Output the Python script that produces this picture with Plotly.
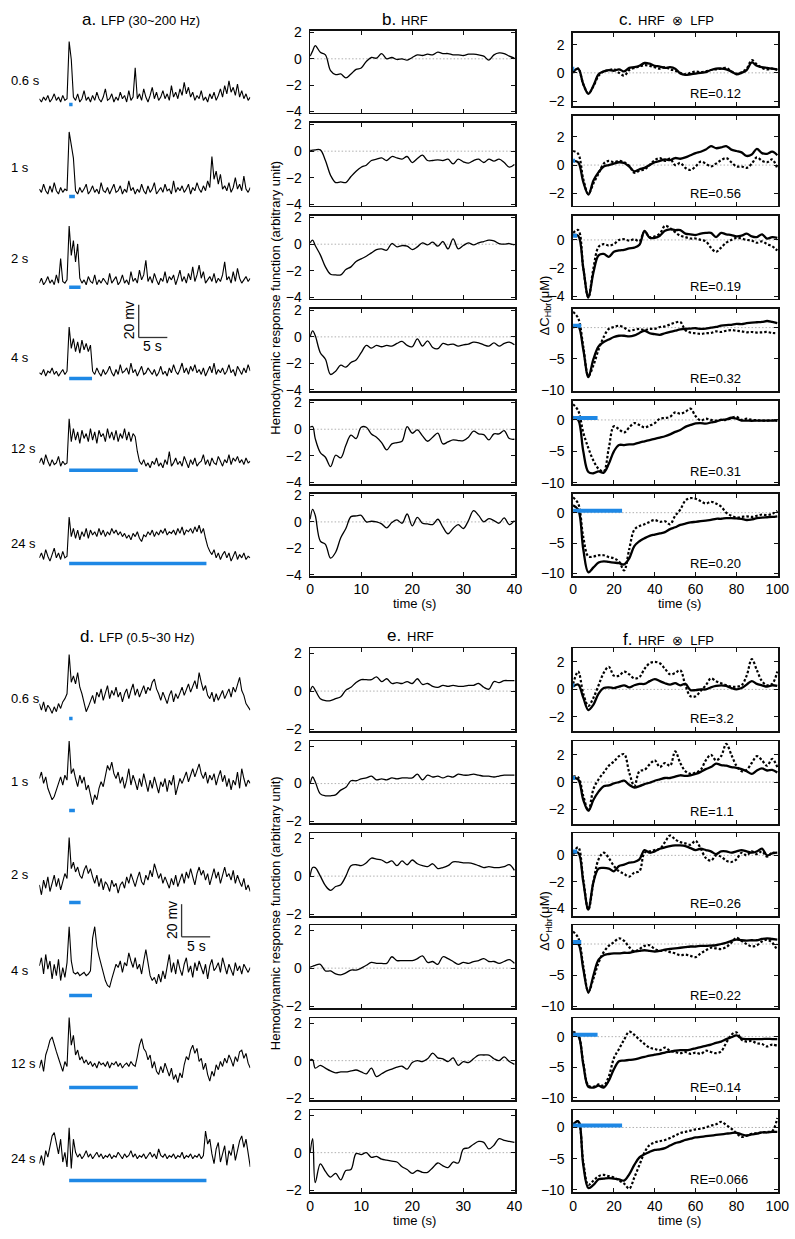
import numpy as np
import plotly.graph_objects as go

W, H = 795, 1239
FONT = "Liberation Sans, Arial, Helvetica, sans-serif"
BLUE = "#1E88E5"

# ---------------------------------------------------------------- data
durations = [0.6, 1, 2, 4, 12, 24]
dur_labels = ["0.6 s", "1 s", "2 s", "4 s", "12 s", "24 s"]
re_gamma = ["RE=0.12", "RE=0.56", "RE=0.19", "RE=0.32", "RE=0.31", "RE=0.20"]
re_low = ["RE=3.2", "RE=1.1", "RE=0.26", "RE=0.22", "RE=0.14", "RE=0.066"]

LFP_DT = 0.3725      # s between LFP samples
LFP_ONSET = 14       # samples before stimulus onset

# LFP 30~200 Hz (mV, relative to baseline)
hi_06 = [2,0,3,1,4,0,2,5,1,3,0,4,1,2,
         37,26,
         3,1,5,0,2,7,1,3,0,4, 1,6,2,0,3,8,1,2,5,0, 3,1,6,2,4,0,7,1,3,21,
         2,5,1,8,3,0,4,9,2,6, 1,3,7,2,5,1,10,3,6,2, 8,4,12,5,9,3,6,1,4,2,
         7,1,3,0,5,2,6,1,4,8, 3,10,5,13,6,9,4,11,3,7, 2,5,1,3]
hi_1 = [3,1,6,2,0,5,1,7,2,0,4,1,3,2,
        38,30,22,
        2,0,4,1,3,6,0,2,5,1, 3,0,7,2,1,4,0,3,6,1, 2,5,0,3,1,8,2,4,0,3,
        1,6,2,0,5,1,3,7,0,2, 4,1,6,2,3,0,8,1,4,2, 5,1,3,6,0,4,2,7,3,1,
        5,2,8,4,23,9,14,6,12,3, 5,2,7,1,4,10,3,6,2,11, 3,1,4]
hi_2 = [1,4,0,2,5,1,3,0,6,1,16,2,1,3,
        36,18,27,14,25,
        4,1,3,0,5,2,1,6,0,3, 1,4,2,0,7,1,3,5,0,2, 6,1,3,0,8,2,4,1,9,3,
        6,15,2,5,1,7,3,0,4,2, 8,1,5,3,6,0,4,9,2,5, 1,7,3,11,2,6,12,4,8,1,
        3,5,2,7,1,4,2,6,14,3, 5,1,8,2,10,4,1,3,5,2, 4]
hi_4 = [2,1,4,0,3,2,5,1,3,0,2,4,1,3,
        30,17,23,15,21,14,22,16,20,15,19,
        3,1,5,2,0,4,1,3,6,2, 0,4,1,7,2,3,5,1,8,2, 4,0,3,6,1,2,5,3,1,4,
        0,2,6,1,3,0,5,2,7,3, 1,4,8,2,5,1,6,3,7,2, 4,1,5,0,3,6,2,8,1,4,
        2,5,1,3,7,2,4,0,6,3, 1,5,2,7,3]
hi_12 = [3,6,2,8,4,1,5,2,3,7,1,4,2,3,
         30,16,24,17,22,15,23,18,21,16, 24,17,22,15,23,19,21,16,24,18,
         22,17,23,16,21,18,24,17,22,16, 21,19,
         10,4,2,5,1,3,0,4,2,6, 1,3,0,5,2,10,1,3,6,2, 4,1,7,3,0,5,2,6,1,3,
         4,8,2,5,1,6,3,2,7,4, 1,5,3,8,2,6,4,7,3,5, 2,6,3,4]
hi_24 = [2,5,1,7,3,0,4,8,2,5,1,6,2,3,
         27,15,20,14,19,13,18,15,20,14, 19,16,18,15,20,16,19,15,18,16,
         20,17,19,16,18,15,17,14,16,13, 17,15,18,14,12,16,15,18,16,19,
         15,18,16,19,17,20,16,18,17,19, 16,20,17,21,16,19,18,20,17,21,
         18,22,17,20,
         14,9,6,4,7,2,5,1,4,6, 2,5,0,3,6,1,4,2,5,1, 3,2]

# LFP 0.5~30 Hz (mV)
lo_06 = [-3,-7,-2,-8,-4,-6,-9,-5,-8,-3,-6,-2,0,3,
         27,10,
         14,9,16,7,3,-2,-8,-5,-1,2, -3,4,1,6,-1,3,8,0,5,2, 7,1,4,-2,3,6,0,5,9,2,
         6,1,4,8,3,7,5,10,12,6, 3,-1,4,1,-3,2,5,-2,3,0, 4,7,2,6,9,4,8,11,6,16,
         10,5,8,2,0,4,-2,3,-1,2, 5,0,3,6,1,7,4,9,13,5, 2,-3,-5,-7]
lo_1 = [2,6,-1,3,-4,-8,-11,-9,-5,0,3,-2,4,1,
        25,5,8,
        2,-3,4,-1,3,-5,-2,-9,-14,-8, -11,-4,0,-3,4,10,7,12,5,2, 6,-1,3,-4,1,8,-2,4,0,-5,
        2,-3,5,-1,-6,1,-4,3,-2,-7, 0,-3,2,-6,1,-2,4,-8,-3,2, -1,3,6,0,4,8,3,7,11,5,
        2,6,-1,4,1,5,-2,3,7,0, 4,-3,2,-5,1,-2,6,-4,8,2, -3,1,-1]
lo_2 = [-2,-8,1,-4,3,-6,-1,4,-3,2,-5,0,5,2,
        27,8,12,6,9,
        4,2,7,10,5,8,3,-1,4,-3, 2,-5,0,-2,-6,1,-3,-1,-7,-2, 0,-4,3,-1,5,1,-3,2,6,0,
        -2,4,1,7,3,11,6,2,5,-1, 3,0,-4,2,-2,4,-3,1,5,-1, 6,2,8,3,-2,5,9,4,7,1,
        5,-2,3,8,2,6,-1,4,9,3, 5,1,7,-1,4,0,-3,2,-5,-2, -6]
lo_4 = [3,8,-2,10,1,6,-5,4,-3,7,-6,2,-4,5,
        27,6,-1,-2,-1,-3,-2,-1,-3,-2,0,
        20,27,15,9,4,-2,-6,-9,-10,-5, 0,4,2,6,-1,5,3,11,6,2, 8,1,4,-2,6,13,5,-3,-6,-4,
        -8,-2,-7,0,-5,3,10,-1,5,-2, 7,1,-3,4,8,-1,3,-4,5,0, 6,2,-2,4,-5,3,7,0,2,5,
        -1,8,3,-2,4,1,-3,5,0,3, -2,4,1,-1,2]
lo_12 = [-2,3,-4,6,10,15,17,12,8,4,0,-4,2,-1,
         29,12,18,6,9,3,5,1,3,0, 2,-1,1,-2,2,0,1,-1,2,-2, 1,0,2,-1,1,-2,0,1,-1,2, 0,-1,
         5,12,16,10,8,3,6,-2,2,-4, -6,-1,-5,1,-3,-7,-2,-9,-6,-11, -5,-8,0,5,3,9,12,7,10,2,
         4,-3,1,-6,-10,-4,-7,0,-3,2, -1,4,1,6,3,-1,5,2,8,9, 4,7,1,-2]
lo_24 = [-3,2,-4,5,1,8,14,16,10,3,12,-2,4,-5,
         19,-6,12,4,1,3,0,2,5,1, 3,0,2,4,1,3,0,2,1,3, 0,2,1,4,2,0,3,1,2,5,
         1,3,0,2,1,3,0,2,4,1, 3,0,6,2,1,3,0,2,1,3, 0,2,1,4,0,2,1,3,0,2, 1,3,0,2,
         17,9,12,3,-3,6,10,-2,4,8, -4,5,2,9,-1,6,11,14,7,12, 3,-5]

# HRFs (arbitrary unit), sampled at hrf_t seconds
hrf_t = [0, 0.5] + list(range(1, 41))
hrf_hi_06 = [0.2,0.6, 1.0,0.5,0.3,-0.9,-1.2,-1.15,-1.45,-1.15,-0.8,-0.7,
             -0.2,0.1,0.05,0.4,0.0,0.1,-0.05,0.0,-0.1,0.1, 0.3,0.25,0.35,0.3,0.5,0.4,0.4,0.3,0.3,0.25,
             0.35,0.35,0.3,0.2,-0.1,0.3,0.45,0.4,0.2,0.05]
hrf_hi_1 = [0.05,0.08, 0.1,0.1,-0.7,-1.8,-2.35,-2.3,-2.35,-1.9,-1.5,-1.2,
            -1.05,-0.7,-0.6,-0.5,-0.7,-0.4,-0.5,-0.6,-0.4,-0.85, -0.55,-0.3,-0.7,-0.7,-0.65,-0.7,-0.6,-0.95,-0.6,-0.8,
            -0.9,-0.7,-0.6,-0.85,-0.6,-0.75,-0.6,-0.85,-1.2,-1.0]
hrf_hi_2 = [0.1,0.3, -0.1,-0.8,-1.7,-2.25,-2.3,-2.3,-1.9,-1.7,-1.3,-1.1,
            -0.9,-0.65,-0.4,-0.35,-0.45,0.05,-0.2,-0.1,-0.15,-0.4, -0.2,0.1,-0.05,0.15,-0.15,0.2,-0.35,0.4,-0.35,-0.1,
            0.1,-0.05,0.1,0.2,0.3,0.25,0.05,0.0,0.05,-0.05]
hrf_hi_4 = [0.0,0.45, 0.1,-1.2,-1.7,-2.85,-2.6,-2.15,-2.3,-1.95,-1.75,-1.2,
            -0.65,-0.85,-0.65,-0.75,-0.65,-0.7,-0.5,-0.35,-0.65,-0.75, -0.15,-0.7,-0.3,-0.8,-0.9,-0.5,-0.6,-0.55,-0.7,-0.6,
            -0.55,-0.4,-0.45,-0.6,-0.7,-0.45,-0.7,-0.5,-0.4,-0.6]
hrf_hi_12 = [0.15,0.2, -0.7,-1.75,-2.1,-2.8,-1.95,-2.15,-1.2,-0.45,-0.7,0.15,
             0.15,-0.35,-0.6,-1.0,-1.55,-1.1,-1.0,-0.9,0.2,-0.3, -0.05,-0.5,-0.9,-0.6,-0.3,-1.1,-0.95,-0.8,-0.85,-0.85,
             -0.6,-0.15,-0.35,-0.4,-0.8,-0.35,-0.35,-0.1,-0.7,-0.75]
hrf_hi_24 = [0.2,0.95, 0.5,-1.45,-1.7,-2.75,-2.3,-1.2,-0.5,0.4,0.45,0.5,
             0.0,0.05,0.0,-0.15,-0.45,-0.05,0.15,-0.1,0.6,-0.3, 0.35,-0.1,-0.15,-0.2,0.2,-0.4,-0.9,-0.5,-0.2,-0.5,
             0.1,0.85,0.5,0.0,0.25,0.1,-0.1,0.3,-0.2,0.1]
hrf_lo_06 = [0.0,0.25, 0.05,-0.4,-0.5,-0.5,-0.4,-0.3,0.05,0.2,0.45,0.6,
             0.6,0.6,0.75,0.5,0.65,0.4,0.45,0.4,0.5,0.4, 0.65,0.35,0.4,0.25,0.2,0.3,0.25,0.3,0.25,0.25,
             0.3,0.3,0.4,0.2,0.1,0.5,0.45,0.55,0.55,0.55]
hrf_lo_1 = [0.0,0.35, 0.1,-0.55,-0.65,-0.65,-0.6,-0.35,-0.2,0.15,0.15,0.25,
            0.3,0.4,0.2,0.25,0.2,0.3,0.25,0.3,0.3,0.3, 0.5,0.2,0.45,0.35,0.4,0.3,0.4,0.35,0.5,0.45,
            0.45,0.5,0.45,0.4,0.4,0.35,0.4,0.45,0.45,0.45]
hrf_lo_2 = [0.0,0.45, 0.45,0.0,-0.5,-0.75,-0.55,-0.45,0.0,0.55,0.6,0.55,
            0.7,0.95,0.9,0.85,0.7,0.8,0.55,0.8,0.6,0.85, 0.65,0.55,0.5,0.65,0.4,0.45,0.55,0.75,0.75,0.7,
            0.7,0.65,0.55,0.45,0.5,0.45,0.45,0.5,0.6,0.3]
hrf_lo_4 = [0.05,0.1, 0.15,0.2,-0.15,-0.15,-0.3,-0.35,-0.25,-0.1,-0.1,0.0,
            0.15,0.3,0.25,0.25,0.25,0.6,0.4,0.4,0.4,0.4, 0.5,0.65,0.3,0.35,0.2,0.6,0.5,0.35,0.2,0.3,
            0.25,0.35,0.4,0.5,0.35,0.35,0.25,0.35,0.45,0.25]
hrf_lo_12 = [0.05,0.05, -0.4,-0.25,-0.4,-0.55,-0.65,-0.6,-0.6,-0.55,-0.5,-0.6,
             -0.7,-0.4,-0.85,-0.7,-0.55,-0.45,-0.35,-0.3,-0.45,-0.1, 0.0,-0.05,0.1,0.4,0.15,0.1,-0.05,0.15,-0.25,-0.05,
             -0.1,0.1,0.3,0.3,0.3,0.1,0.0,0.2,-0.05,-0.2]
hrf_lo_24 = [0.0,0.75, -1.6,-0.6,-1.0,-1.3,-1.1,-1.45,-0.95,-0.9,-0.05,-0.1,
             0.0,-0.25,-0.2,-0.35,-0.4,-0.45,-0.5,-0.75,-0.9,-1.1, -0.95,-1.05,-1.05,-0.8,-0.55,-0.7,-0.8,-0.5,-0.55,0.2,
             0.25,0.45,0.6,0.55,0.2,0.4,0.75,0.65,0.6,0.55]

# HRF (x) LFP prediction (solid) and measured dC_Hbr (dotted), uM, at conv_t seconds
conv_t = list(np.arange(0, 100.01, 2.5))
pred_hi_06 = [0.1,0.3,-0.8,-1.5,-0.9,-0.1,0.1,0.2,0.15,0.25, 0.1,0.35,0.4,0.5,0.7,0.65,0.5,0.45,0.35,0.4,
              0.3,-0.05,-0.15,-0.1,-0.05,0.0,0.05,0.2,0.3,0.3, 0.25,0.1,-0.1,0.0,0.2,0.75,0.5,0.4,0.35,0.3, 0.25]
meas_hi_06 = [0.0,0.3,-0.8,-1.45,-0.95,-0.2,0.1,0.2,0.25,0.0, -0.2,0.2,0.35,0.45,0.55,0.5,0.4,0.3,0.4,0.25,
              0.15,0.0,-0.1,0.0,0.1,0.05,0.1,0.2,0.25,0.3, 0.35,0.1,-0.05,0.05,0.3,0.9,0.6,0.35,0.25,0.3, 0.2]
pred_hi_1 = [0.3,0.2,-1.2,-2.1,-1.1,-0.5,-0.1,0.0,0.1,0.2, 0.15,-0.1,-0.45,-0.3,-0.2,0.0,0.2,0.3,0.4,0.35,
             0.5,0.45,0.55,0.7,0.85,0.95,1.1,1.35,1.2,1.25, 1.35,1.1,1.0,0.9,0.65,0.75,1.15,0.85,0.8,0.95, 0.7]
meas_hi_1 = [1.0,0.8,-1.0,-2.05,-1.3,-0.6,0.1,0.3,0.2,0.3, 0.2,-0.05,-0.55,-0.4,-0.3,0.0,0.35,0.5,0.3,0.45,
             0.0,0.15,-0.2,-0.35,-0.1,0.25,0.1,-0.1,0.1,0.35, 0.5,0.2,-0.1,-0.1,-0.2,0.1,0.55,0.3,0.2,0.4, -0.25]
pred_hi_2 = [0.35,0.3,-2.0,-4.1,-2.3,-1.1,-1.0,-1.2,-0.85,-0.75, -0.7,-0.6,-0.55,-0.35,0.65,0.15,0.15,0.3,0.65,0.75,
             0.7,0.7,0.45,0.4,0.35,0.45,0.5,0.5,0.2,0.5, 0.4,0.35,0.25,0.3,0.45,0.25,0.2,0.4,0.1,0.2, 0.15]
meas_hi_2 = [0.5,0.7,-2.0,-4.1,-2.0,-0.5,-0.3,-0.4,-0.3,0.0, 0.05,-0.05,0.05,-0.1,0.6,0.2,0.25,0.45,1.0,0.85,
             0.55,0.3,0.2,0.1,0.1,0.0,-0.1,-0.55,-0.85,-0.55, -0.2,0.0,0.15,0.1,0.0,-0.05,-0.2,-0.1,-0.3,-0.45, -0.75]
pred_hi_4 = [0.0,0.2,-3.5,-7.9,-5.0,-3.0,-2.3,-1.9,-1.5,-1.3, -1.3,-1.4,-1.25,-0.85,-0.5,-0.9,-1.05,-1.15,-0.9,-0.7,
             -0.5,-0.3,-0.2,-0.15,-0.1,-0.2,-0.15,0.0,0.1,0.3, 0.4,0.45,0.6,0.55,0.7,0.8,0.85,0.9,1.05,0.9, 0.7]
meas_hi_4 = [2.5,1.5,-3.0,-7.7,-6.0,-3.5,-1.5,-0.2,0.1,0.3, 0.0,-0.5,-0.35,-0.2,-0.4,-0.2,-0.2,0.1,0.2,0.5,
             0.8,0.9,-0.4,-0.8,-0.9,-1.0,-0.9,-0.85,-0.6,-0.7, -0.5,-0.4,-0.5,-0.6,-0.75,-0.7,-0.8,-0.75,-0.7,-0.85, -0.9]
pred_hi_12 = [0.5,0.0,-5.0,-8.3,-8.5,-8.2,-8.4,-7.0,-5.0,-4.0, -4.0,-3.9,-3.85,-3.6,-3.4,-3.2,-3.0,-2.8,-2.6,-2.3,
              -1.9,-1.6,-1.1,-0.8,-0.55,-0.5,-0.6,-0.4,-0.25,0.0, 0.1,0.35,0.2,-0.1,-0.1,-0.15,-0.1,-0.1,-0.1,-0.1, -0.1]
meas_hi_12 = [2.5,1.5,-2.0,-4.5,-6.5,-7.8,-8.2,-4.5,-1.0,-1.5, -2.0,-1.2,-0.5,-0.8,-1.2,-0.9,-0.5,0.2,0.3,0.5,
              1.2,1.0,1.3,1.8,0.6,-0.1,0.2,0.0,-0.1,0.0, 0.0,0.3,0.5,0.0,0.2,0.0,-0.05,-0.1,-0.1,-0.05, -0.1]
pred_hi_24 = [1.2,0.5,-6.0,-9.8,-9.0,-8.2,-8.0,-8.1,-8.2,-8.3, -8.5,-7.5,-5.5,-4.7,-4.2,-3.8,-3.6,-3.4,-3.2,-2.7,
              -2.4,-2.0,-1.8,-1.6,-1.5,-1.4,-1.3,-1.2,-1.0,-1.0, -0.9,-0.9,-0.95,-1.0,-1.2,-1.1,-0.9,-0.8,-0.75,-0.7, -0.6]
meas_hi_24 = [2.5,1.5,-4.0,-7.2,-7.2,-7.0,-7.0,-7.3,-7.5,-8.0, -9.5,-6.0,-2.8,-2.2,-1.9,-1.5,-1.2,-1.5,-1.4,-1.9,
              -0.5,0.5,2.0,2.4,2.3,1.9,1.5,1.8,1.5,1.0, 0.0,-0.5,-0.8,-0.7,-0.6,-0.7,-0.5,-0.3,-0.4,-0.2, 0.3]
pred_lo_06 = [0.2,0.35,-0.6,-1.5,-1.1,-0.3,0.1,0.15,0.1,0.2, 0.3,0.15,0.3,0.4,0.4,0.6,0.75,0.6,0.45,0.35,
              0.45,0.3,0.4,-0.05,-0.05,0.0,0.0,0.15,0.25,0.3, 0.25,0.1,0.0,0.1,0.35,0.6,0.4,0.3,0.2,0.3, 0.25]
meas_lo_06 = [0.4,1.3,-0.3,-1.2,-0.6,0.3,1.2,1.65,1.0,1.0, 1.3,1.1,0.8,0.9,1.5,1.9,2.0,1.9,1.5,1.1,
              1.2,1.4,0.3,-0.5,-0.5,-0.1,0.3,0.8,0.6,0.45, 0.3,0.2,0.2,0.3,1.0,2.2,1.4,0.6,0.3,0.4, 1.3]
pred_lo_1 = [0.3,0.2,-1.3,-2.1,-1.3,-0.7,-0.3,-0.25,-0.1,0.0, 0.1,-0.2,-0.4,-0.3,-0.15,-0.05,0.1,0.2,0.3,0.3,
             0.4,0.5,0.45,0.5,0.6,0.75,0.95,1.1,1.35,1.25, 1.2,1.1,1.05,0.95,0.8,0.6,0.85,1.0,0.85,0.9, 0.7]
meas_lo_1 = [0.4,0.35,-1.0,-2.1,-0.5,0.2,0.7,1.2,1.5,1.9, 2.05,0.7,-0.3,0.8,0.9,1.3,1.6,1.1,1.4,1.2,
             2.25,1.4,0.8,0.6,0.7,0.9,1.6,2.0,1.6,1.9, 2.8,2.0,1.2,0.8,0.9,1.4,1.9,1.6,1.2,1.7, 1.1]
pred_lo_2 = [0.1,0.2,-2.0,-4.1,-2.0,-1.0,-0.95,-1.0,-1.2,-0.8, -0.7,-0.55,-0.5,-0.3,0.4,0.2,0.3,0.5,0.6,0.7,
             0.75,0.75,0.7,0.55,0.4,0.5,0.4,0.3,0.1,0.3, 0.3,0.2,0.3,0.4,0.3,0.2,0.3,0.5,0.0,0.15, 0.2]
meas_lo_2 = [0.2,0.6,-1.8,-4.1,-2.0,-0.3,0.2,-0.2,-0.8,-1.2, -1.4,-1.6,-1.3,-1.2,0.2,0.3,0.4,0.5,1.0,1.5,
             1.2,1.0,0.9,0.8,1.1,0.5,-0.2,-0.4,0.0,-0.1, -0.4,-0.5,-0.3,0.2,0.0,0.3,0.1,0.3,-0.1,0.2, 0.1]
pred_lo_4 = [0.1,0.0,-4.0,-7.8,-5.0,-2.5,-1.8,-1.6,-1.5,-1.5, -1.4,-1.4,-1.2,-1.1,-1.0,-1.1,-1.2,-1.1,-0.9,-0.8,
             -0.7,-0.6,-0.5,-0.4,-0.4,-0.3,-0.3,-0.25,-0.2,0.0, 0.2,0.5,0.7,0.6,0.55,0.6,0.6,0.8,0.9,0.8, 0.7]
meas_lo_4 = [2.0,1.0,-3.5,-7.6,-5.5,-3.0,-1.3,-0.3,0.3,0.9, 0.5,-0.5,-1.2,-0.8,-0.3,-0.2,-0.8,-1.1,-1.0,-1.3,
             -1.5,-1.8,-1.7,-1.9,-2.1,-1.5,-1.0,-0.6,-0.7,-0.8, -0.5,0.2,1.0,0.5,0.0,-0.4,-0.2,0.4,0.7,0.2, -1.0]
pred_lo_12 = [0.5,0.2,-4.5,-8.2,-8.3,-8.0,-8.3,-7.2,-5.3,-4.0, -3.9,-3.8,-3.7,-3.5,-3.3,-3.1,-2.95,-2.8,-2.6,-2.45,
              -2.3,-2.2,-2.2,-2.1,-1.9,-1.7,-1.5,-1.3,-1.0,-0.8, -0.4,-0.1,0.2,-0.3,-0.4,-0.4,-0.4,-0.4,-0.35,-0.4, -0.4]
meas_lo_12 = [0.8,0.3,-4.2,-8.0,-8.2,-7.8,-8.0,-6.5,-3.5,-2.0, -0.5,0.8,0.3,-0.5,-1.2,-1.8,-2.0,-2.2,-1.8,-2.3,
              -2.5,-2.7,-2.5,-2.8,-2.6,-2.8,-2.3,-2.5,-2.7,-2.4, -1.0,0.3,0.7,-0.5,-0.8,-0.7,-1.1,-1.2,-1.6,-1.3, -1.5]
pred_lo_24 = [0.5,1.0,-6.0,-9.7,-9.2,-8.3,-8.2,-8.1,-8.2,-8.3, -8.5,-7.5,-6.0,-4.8,-4.3,-3.9,-3.6,-3.5,-3.3,-2.9,
              -2.5,-2.3,-2.0,-1.8,-1.6,-1.5,-1.4,-1.3,-1.2,-1.1, -1.0,-0.9,-0.85,-1.1,-1.3,-1.1,-1.0,-0.8,-0.8,-0.7, -0.7]
meas_lo_24 = [0.3,1.0,-5.5,-9.2,-8.5,-7.8,-7.6,-7.8,-8.0,-8.5, -9.0,-9.8,-8.0,-6.0,-4.0,-2.8,-2.4,-2.2,-2.0,-1.7,
              -1.3,-0.9,-0.7,-0.5,-0.3,-0.2,0.0,0.3,0.5,0.9, 0.4,-0.2,-0.9,-1.5,-1.3,-1.0,-0.9,-0.8,-0.7,-0.6, 1.5]

lfp_hi = [hi_06, hi_1, hi_2, hi_4, hi_12, hi_24]
lfp_lo = [lo_06, lo_1, lo_2, lo_4, lo_12, lo_24]
hrf_hi = [hrf_hi_06, hrf_hi_1, hrf_hi_2, hrf_hi_4, hrf_hi_12, hrf_hi_24]
hrf_lo = [hrf_lo_06, hrf_lo_1, hrf_lo_2, hrf_lo_4, hrf_lo_12, hrf_lo_24]
pred_hi = [pred_hi_06, pred_hi_1, pred_hi_2, pred_hi_4, pred_hi_12, pred_hi_24]
meas_hi = [meas_hi_06, meas_hi_1, meas_hi_2, meas_hi_4, meas_hi_12, meas_hi_24]
pred_lo = [pred_lo_06, pred_lo_1, pred_lo_2, pred_lo_4, pred_lo_12, pred_lo_24]
meas_lo = [meas_lo_06, meas_lo_1, meas_lo_2, meas_lo_4, meas_lo_12, meas_lo_24]

# ---------------------------------------------------------------- layout geometry (pixels)
LFP_XPX = (36, 251)
LFP_TR = [-LFP_ONSET * LFP_DT, (99 - LFP_ONSET) * LFP_DT]
PX_PER_S = (LFP_XPX[1] - LFP_XPX[0]) / (LFP_TR[1] - LFP_TR[0])
PX_PER_MV = 1.65
hi_base_px = [97, 190, 281.7, 374, 466.7, 561]
lo_zero_px = [700, 784, 885, 975, 1070, 1165]
lo_bar_px = [720, 813, 906, 1000, 1093, 1187]
hi_label_y = [75, 163, 255, 355, 447, 543]
lo_label_y = [700, 784, 878, 975, 1069, 1165]

HRF_XPX = (312, 521)
hrf_top_rows = [(25, 108), (118, 202), (212, 296), (306, 389), (399, 483), (493, 576)]
hrf_bot_rows = [(649, 733), (743, 826), (836, 920), (929, 1013), (1023, 1106), (1116, 1199)]
HRF_YR_TOP = [-4.1, 2.13]
HRF_YR_BOT = [-2.12, 2.26]

CONV_XPX = (580, 789)
conv_top_rows = [(27, 101), (111, 202), (212, 296), (306, 389), (399, 483), (493, 576)]
conv_bot_rows = [(649, 733), (743, 827), (836, 920), (929, 1013), (1023, 1106), (1116, 1199)]
conv_top_yr = [(-2.35, 2.85), (-2.9, 3.5), (-4.2, 1.72), (-10.1, 3.0), (-10.2, 3.05), (-10.4, 3.1)]
conv_bot_yr = [(-3.05, 3.0), (-3.1, 3.0), (-4.6, 1.67), (-10.3, 3.0), (-10.4, 3.0), (-10.4, 2.75)]
conv_yticks = [[-2, 0, 2], [-2, 0, 2], [-4, -2, 0], [-10, -5, 0], [-10, -5, 0], [-10, -5, 0]]

# ---------------------------------------------------------------- build
fig = go.Figure()
axes = {}
shapes = []
annotations = []
count = [0]


def new_axes(xpx, ypx, xr, yr, boxed=True, xticks=None, yticks=None, xlabels=False):
    count[0] += 1
    n = count[0]
    s = "" if n == 1 else str(n)
    xa = dict(domain=[xpx[0] / W, xpx[1] / W], range=list(xr), anchor="y" + s)
    ya = dict(domain=[1 - ypx[1] / H, 1 - ypx[0] / H], range=list(yr), anchor="x" + s)
    if boxed:
        common = dict(showline=True, linecolor="#111111", linewidth=1.6, mirror="ticks",
                      ticks="inside", ticklen=4, tickwidth=1, tickcolor="#111111",
                      showgrid=False, zeroline=False,
                      tickfont=dict(family=FONT, size=14, color="black"))
        xa.update(common, tickmode="array", tickvals=xticks, showticklabels=xlabels,
                  ticklabelstandoff=0)
        ya.update(common, tickmode="array", tickvals=yticks, ticklabelstandoff=4)
        shapes.append(dict(type="line", xref=f"x{s} domain", yref="y" + s, x0=0, x1=1, y0=0, y1=0,
                           line=dict(color="#b0b0b0", width=1, dash="1.5px,2px"), layer="below"))
    else:
        xa.update(visible=False)
        ya.update(visible=False)
    axes["xaxis" + s] = xa
    axes["yaxis" + s] = ya
    return "x" + s, "y" + s


def line(xr, yr, x, y, color="black", width=1.0, dash=None, shape="linear"):
    fig.add_trace(go.Scatter(x=x, y=y, xaxis=xr, yaxis=yr, mode="lines",
                             line=dict(color=color, width=width, dash=dash, shape=shape),
                             showlegend=False, hoverinfo="skip"))


def ann(text, x, y, size=14, xanchor="center", angle=0):
    annotations.append(dict(text=text, x=x / W, y=1 - y / H, xref="paper", yref="paper",
                            showarrow=False, xanchor=xanchor, yanchor="middle", textangle=angle,
                            borderpad=0, font=dict(family=FONT, size=size, color="black")))


# LFP columns (a, d)
for i in range(6):
    base = hi_base_px[i]
    xr, yr = new_axes(LFP_XPX, (base - 70, base + 10), LFP_TR,
                      (-10 / PX_PER_MV, 70 / PX_PER_MV), boxed=False)
    v = lfp_hi[i]
    t = (np.arange(len(v)) - LFP_ONSET) * LFP_DT
    line(xr, yr, t, v, width=1.1)
    line(xr, yr, [0, durations[i]], [-2.5 / PX_PER_MV] * 2, color=BLUE, width=3.5)
    ann(dur_labels[i], 6, hi_label_y[i], size=13, xanchor="left")

    z = lo_zero_px[i]
    xr, yr = new_axes(LFP_XPX, (z - 52, z + 34), LFP_TR,
                      (-34 / PX_PER_MV, 52 / PX_PER_MV), boxed=False)
    v = lfp_lo[i]
    t = (np.arange(len(v)) - LFP_ONSET) * LFP_DT
    line(xr, yr, t, v, width=1.1)
    yb = (z - lo_bar_px[i]) / PX_PER_MV
    line(xr, yr, [0, durations[i]], [yb, yb], color=BLUE, width=3.5)
    ann(dur_labels[i], 6, lo_label_y[i], size=13, xanchor="left")

# HRF columns (b, e)
for i in range(6):
    for rows, yrng, ticks, data in ((hrf_top_rows, HRF_YR_TOP, [-4, -2, 0, 2], hrf_hi),
                                    (hrf_bot_rows, HRF_YR_BOT, [-2, 0, 2], hrf_lo)):
        xr, yr = new_axes(HRF_XPX, rows[i], (0, 40.15), yrng, xticks=[0, 10, 20, 30, 40],
                          yticks=ticks, xlabels=(i == 5))
        line(xr, yr, hrf_t, data[i], width=1.3, shape="spline")

# convolution columns (c, f)
for i in range(6):
    for rows, yrs, pred, meas, res in ((conv_top_rows, conv_top_yr, pred_hi, meas_hi, re_gamma),
                                       (conv_bot_rows, conv_bot_yr, pred_lo, meas_lo, re_low)):
        xr, yr = new_axes(CONV_XPX, rows[i], (0, 100.4), yrs[i],
                          xticks=[0, 20, 40, 60, 80, 100], yticks=conv_yticks[i], xlabels=(i == 5))
        line(xr, yr, conv_t, meas[i], width=2.2, dash="2.5px,2px", shape="spline")
        line(xr, yr, conv_t, pred[i], width=2.3, shape="spline")
        line(xr, yr, [0, durations[i]], [0.3, 0.3], color=BLUE, width=4)
        ann(res[i], 698, rows[i][1] - 13, size=13, xanchor="left")

# panel titles: larger letter (right edge) + caption (left edge)
NB = "\u00a0"
titles = [("a.", 95, "LFP (30~200 Hz)", 98, 14),
          ("b.", 401, "HRF", 404, 14),
          ("c.", 641, "HRF" + NB * 2 + "\u2297" + NB * 2 + "LFP", 645, 14),
          ("d.", 93, "LFP (0.5~30 Hz)", 96, 637),
          ("e.", 406, "HRF", 410, 636),
          ("f.", 641, "HRF" + NB * 2 + "\u2297" + NB * 2 + "LFP", 645, 640)]
for letter, lx, cap, cx, ty in titles:
    ann(letter, lx, ty, size=17, xanchor="right")
    ann(cap, cx, ty + 1, size=13, xanchor="left")

# axis titles
for yc in (295, 917):
    ann("Hemodynamic response function (arbitrary unit)", 277, yc, size=13, angle=-90)
for yc in (303, 925):
    ann("\u0394C<sub>Hbr</sub>(\u03bcM)", 552, yc, size=13, angle=-90)
for yc in (604, 1227):
    ann("time (s)", 418, yc, size=13)
    ann("time (s)", 688, yc, size=13)

# scale bars (20 mV, 5 s)
for cx, cy, lab_v, lab_h in ((137.3, 335, (127, 318), (151.7, 344)),
                             (181, 940.7, (172, 924), (196, 950))):
    shapes.append(dict(type="line", xref="paper", yref="paper",
                       x0=cx / W, x1=cx / W, y0=1 - cy / H, y1=1 - (cy - 20 * PX_PER_MV) / H,
                       line=dict(color="#333333", width=1.3)))
    shapes.append(dict(type="line", xref="paper", yref="paper",
                       x0=cx / W, x1=(cx + 5 * PX_PER_S) / W, y0=1 - cy / H, y1=1 - cy / H,
                       line=dict(color="#333333", width=1.3)))
    ann("20 mv", lab_v[0], lab_v[1], size=14, angle=-90)
    ann("5 s", lab_h[0], lab_h[1], size=14)

fig.update_layout(width=W, height=H, autosize=False,
                  margin=dict(l=0, r=0, t=0, b=0, pad=0),
                  paper_bgcolor="white", plot_bgcolor="rgba(0,0,0,0)",
                  showlegend=False, shapes=shapes, annotations=annotations,
                  hovermode=False,
                  font=dict(family=FONT, size=14, color="black"), **axes)

fig.write_html("out.html",
               config={"displayModeBar": False, "staticPlot": True},
               post_script="document.body.style.margin='0px';document.body.style.padding='0px';"
                           "document.body.style.overflow='hidden';")
